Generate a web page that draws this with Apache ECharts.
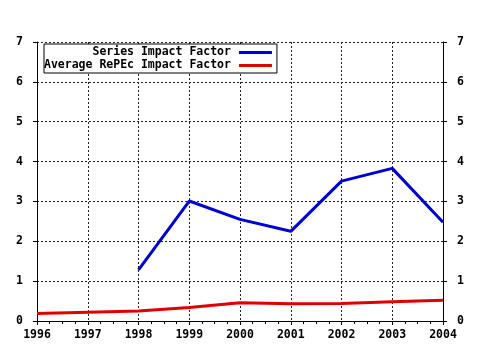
<!DOCTYPE html>
<html>
<head>
<meta charset="utf-8">
<script src="https://cdn.jsdelivr.net/npm/echarts@6/dist/echarts.min.js"></script>
<style>html,body{margin:0;padding:0;background:#fff}#c{width:480px;height:350px}</style>
</head>
<body>
<div id="c"></div>
<script>
var years = [1996, 1997, 1998, 1999, 2000, 2001, 2002, 2003, 2004];
var seriesImpact = [null, null, 1.28, 3.01, 2.55, 2.25, 3.51, 3.83, 2.48];
var averageImpact = [0.19, 0.22, 0.25, 0.34, 0.46, 0.43, 0.44, 0.48, 0.52];
var yTicks = [0, 1, 2, 3, 4, 5, 6, 7];

var font = {fontFamily: 'DejaVu Sans Mono', fontWeight: 'bold', fontSize: 11.5, color: '#000'};
function pairs(vals) {
  return years.map(function (y, i) { return [y, vals[i]]; }).filter(function (p) { return p[1] != null; });
}
var axisLine = {show: true, lineStyle: {color: '#000', width: 1}};
var dotted = {show: true, lineStyle: {color: '#222', width: 1, type: [2, 2]}};

var chart = echarts.init(document.getElementById('c'));
chart.setOption({
  animation: false,
  backgroundColor: '#fff',
  grid: {left: 37, right: 37, top: 42, bottom: 29, containLabel: false},
  legend: {
    orient: 'vertical', left: 44, top: 44, align: 'right',
    backgroundColor: '#fff', borderColor: '#000', borderWidth: 1,
    padding: [2, 5, 1, 0], itemGap: 0, itemWidth: 33, itemHeight: 3,
    icon: 'rect',
    textStyle: Object.assign({}, font, {padding: [0, 3, 0, 0], lineHeight: 13}),
    data: ['Series Impact Factor', 'Average RePEc Impact Factor']
  },
  xAxis: [{
    type: 'value', min: years[0], max: years[years.length - 1], interval: 1,
    axisLine: axisLine,
    axisTick: {show: true, length: 4, lineStyle: {color: '#000'}},
    minorTick: {show: true, splitNumber: 4, length: 3, lineStyle: {color: '#000'}},
    axisLabel: Object.assign({}, font, {margin: 8, formatter: function (v) { return String(v); }}),
    splitLine: dotted
  }, {
    type: 'value', position: 'top', min: years[0], max: years[years.length - 1], interval: 1,
    axisLine: axisLine,
    axisTick: {show: true, inside: true, length: 4, lineStyle: {color: '#000'}},
    minorTick: {show: true, splitNumber: 4, length: 3, lineStyle: {color: '#000'}},
    axisLabel: {show: false}, splitLine: {show: false}
  }],
  yAxis: [{
    type: 'value', min: yTicks[0], max: yTicks[yTicks.length - 1], interval: 1,
    axisLine: axisLine,
    axisTick: {show: true, length: 4, lineStyle: {color: '#000'}},
    axisLabel: Object.assign({}, font, {margin: 14}),
    splitLine: dotted
  }, {
    type: 'value', position: 'right', min: yTicks[0], max: yTicks[yTicks.length - 1], interval: 1,
    axisLine: axisLine,
    axisTick: {show: true, length: 4, lineStyle: {color: '#000'}},
    axisLabel: Object.assign({}, font, {margin: 14}),
    splitLine: {show: false}
  }],
  series: [{
    name: 'Series Impact Factor', type: 'line', data: pairs(seriesImpact),
    showSymbol: false, symbol: 'none', color: '#0000d0',
    lineStyle: {width: 3, color: '#0000d0'}
  }, {
    name: 'Average RePEc Impact Factor', type: 'line', data: pairs(averageImpact),
    showSymbol: false, symbol: 'none', color: '#e00000',
    lineStyle: {width: 3, color: '#e00000'}
  }]
});
</script>
</body>
</html>
